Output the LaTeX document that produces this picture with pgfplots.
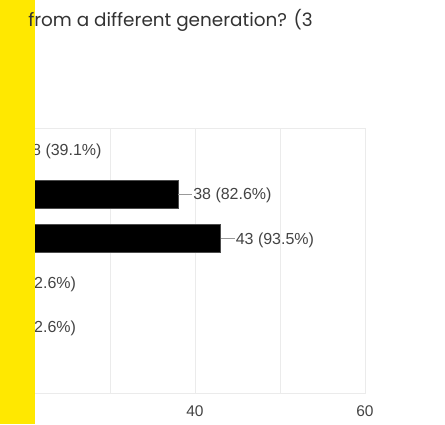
\documentclass[border=0pt]{standalone}
\usepackage{fontspec}
\setmainfont{Liberation Sans}
\newfontfamily\titlefont{Poppins}
\usepackage{pgfplots}
\pgfplotsset{compat=1.18}
\definecolor{gridgrey}{HTML}{EBEBEB}
\definecolor{labelgrey}{HTML}{444444}
\definecolor{connector}{HTML}{999999}
\definecolor{titlegrey}{HTML}{333333}
\definecolor{stripyellow}{HTML}{FFE800}

\begin{document}
\begin{tikzpicture}[x=1pt,y=1pt]
\useasboundingbox (0,0) rectangle (445,-424);
\clip (0,0) rectangle (445,-424);
\fill[white] (0,0) rectangle (445,-424);
\begin{axis}[
  at={(-145pt,-128pt)}, anchor=north west,
  scale only axis, width=510pt, height=265pt,
  xbar, bar width=27.6pt,
  xmin=0, xmax=60, ymin=-0.5, ymax=5.5, y dir=reverse,
  xtick={0,20,40,60}, minor xtick={10,30,50}, ytick=\empty,
  grid=both,
  major grid style={gridgrey, line width=0.8pt},
  minor grid style={gridgrey, line width=0.8pt},
  axis line style={gridgrey, line width=0.8pt},
  major tick length=0pt, minor tick length=0pt,
  tick label style={font=\fontsize{15.5}{18}\selectfont, text=labelgrey},
  xticklabel style={anchor=base, yshift=-23.7pt},
  /pgf/number format/assume math mode=true,
  point meta=explicit symbolic,
  nodes near coords={\textcolor{connector}{\rule[5.5pt]{14pt}{0.9pt}}\hspace{1pt}\pgfplotspointmeta},
  every node near coord/.append style={anchor=base west, inner sep=0pt, yshift=-5.7pt,
    text=labelgrey, font=\fontsize{16}{19}\selectfont},
]
\addplot[fill=black, draw=black!70, line width=0.6pt] coordinates {
  (18,0) [18 (39.1\%)]
  (38,1) [38 (82.6\%)]
  (43,2) [43 (93.5\%)]
  (15,3) [15 (32.6\%)]
  (15,4) [15 (32.6\%)]
  (0,5) [0 (0\%)]
};
\end{axis}
\fill[stripyellow] (0,0) rectangle (35,-424);
\node[anchor=base east, inner sep=0pt, text=titlegrey, font=\titlefont\fontsize{18.4}{22}\selectfont]
  at (313,-26) {from a different generation? (3};
\end{tikzpicture}
\end{document}
